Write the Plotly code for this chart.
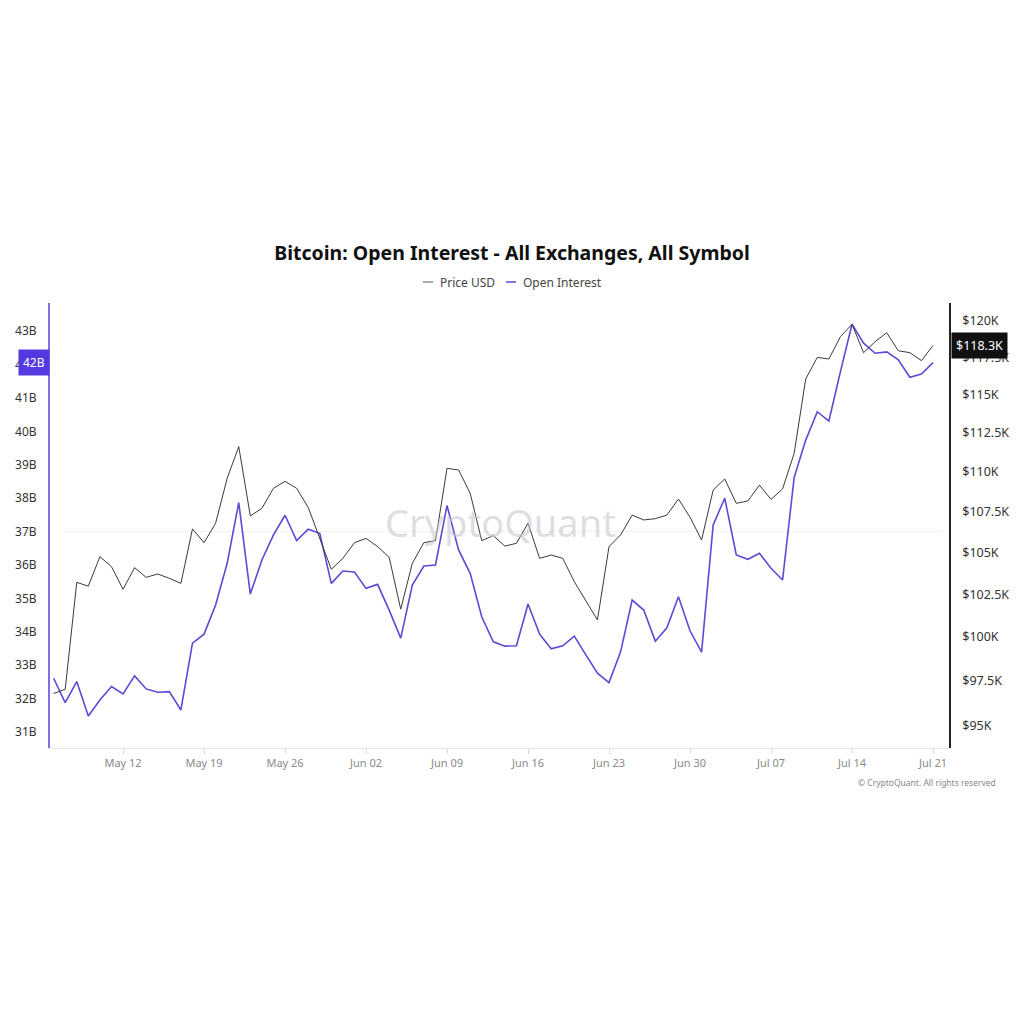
import math
import pandas as pd
import plotly.graph_objects as go

# ---- data (daily, 2025-05-06 .. 2025-07-21) ----
start_date = "2025-05-06"
n_days = 77

price_usd_k = [
    96.80, 97.03, 103.20, 102.98, 104.74, 104.14, 102.79, 104.08, 103.50, 103.70,
    103.44, 103.14, 106.43, 105.59, 106.78, 109.58, 111.60, 107.23, 107.70, 108.95,
    109.39, 108.95, 107.76, 105.85, 103.98, 104.64, 105.59, 105.85, 105.35, 104.70,
    101.62, 104.34, 105.59, 105.71, 110.21, 110.11, 108.64, 105.71, 106.02, 105.38,
    105.55, 106.78, 104.64, 104.84, 104.64, 103.24, 102.10, 100.99, 105.35, 106.06,
    107.28, 106.98, 107.06, 107.28, 108.28, 107.15, 105.75, 108.84, 109.54, 108.01,
    108.16, 109.15, 108.26, 108.91, 111.17, 116.04, 117.49, 117.38, 118.90, 119.75,
    117.81, 118.56, 119.17, 117.94, 117.81, 117.27, 118.30,
]

open_interest_b = [
    32.61, 31.88, 32.51, 31.48, 31.96, 32.36, 32.14, 32.68, 32.29, 32.19,
    32.21, 31.66, 33.66, 33.93, 34.80, 36.05, 37.87, 35.13, 36.15, 36.90,
    37.49, 36.73, 37.07, 36.95, 35.45, 35.82, 35.79, 35.30, 35.42, 34.65,
    33.81, 35.40, 35.97, 36.00, 37.78, 36.45, 35.75, 34.45, 33.70, 33.57,
    33.58, 34.83, 33.93, 33.49, 33.58, 33.87, 33.31, 32.76, 32.48, 33.40,
    34.95, 34.65, 33.72, 34.12, 35.05, 34.03, 33.39, 37.20, 38.00, 36.30,
    36.17, 36.35, 35.90, 35.55, 38.62, 39.74, 40.59, 40.31, 41.79, 43.21,
    42.64, 42.34, 42.38, 42.14, 41.62, 41.72, 42.06,
]

x_tick_dates = ["2025-05-12", "2025-05-19", "2025-05-26", "2025-06-02", "2025-06-09",
                "2025-06-16", "2025-06-23", "2025-06-30", "2025-07-07", "2025-07-14",
                "2025-07-21"]
x_tick_labels = ["May 12", "May 19", "May 26", "Jun 02", "Jun 09", "Jun 16",
                 "Jun 23", "Jun 30", "Jul 07", "Jul 14", "Jul 21"]

oi_tick_vals = [31, 32, 33, 34, 35, 36, 37, 38, 39, 40, 41, 42, 43]
oi_tick_labels = [f"{v}B" for v in oi_tick_vals]

price_tick_vals = [95000, 97500, 100000, 102500, 105000, 107500, 110000, 112500,
                   115000, 117500, 120000]
price_tick_labels = ["$95K", "$97.5K", "$100K", "$102.5K", "$105K", "$107.5K",
                     "$110K", "$112.5K", "$115K", "$117.5K", "$120K"]

series_names = ["Price USD", "Open Interest"]

dates = pd.date_range(start_date, periods=n_days, freq="D")
price_usd = [p * 1000 for p in price_usd_k]

PURPLE = "rgb(90,75,214)"
PRICE_COLOR = "#3a3a3a"
FONT = "Noto Sans"

# plot-area geometry (pixels)
PLOT_L, PLOT_R, PLOT_T, PLOT_B = 50, 949, 303, 748
PW, PH = PLOT_R - PLOT_L, PLOT_B - PLOT_T


def px_x(x):
    return (x - PLOT_L) / PW


def px_y(y):
    return (PLOT_B - y) / PH


fig = go.Figure()
fig.add_trace(go.Scatter(
    x=dates, y=price_usd, name=series_names[0], yaxis="y2", mode="lines",
    line=dict(color=PRICE_COLOR, width=1), showlegend=False,
))
fig.add_trace(go.Scatter(
    x=dates, y=open_interest_b, name=series_names[1], yaxis="y", mode="lines",
    line=dict(color=PURPLE, width=1.6), showlegend=False,
))

fig.update_layout(
    width=1024, height=1024,
    autosize=False,
    paper_bgcolor="white", plot_bgcolor="white",
    margin=dict(l=PLOT_L, r=1024 - PLOT_R, t=PLOT_T, b=1024 - PLOT_B, pad=0),
    font=dict(family=FONT, color="#333"),
    title=dict(
        text="<b>Bitcoin: Open Interest - All Exchanges, All Symbol</b>",
        x=0.5, xref="container", xanchor="center",
        y=1 - 253 / 1024, yref="container", yanchor="middle",
        font=dict(family=FONT, size=19.5, color="#111"),
    ),
    showlegend=False,
    xaxis=dict(
        type="date",
        range=["2025-05-05 16:30", "2025-07-22 09:10"],
        tickvals=x_tick_dates, ticktext=x_tick_labels,
        showgrid=False, zeroline=False,
        showline=True, linecolor="#e3e3e3", linewidth=1,
        ticks="outside", ticklen=5, tickcolor="#dddddd",
        tickfont=dict(family=FONT, size=11, color="#8a8a8a"),
    ),
    yaxis=dict(
        range=[43 - (PLOT_B - 331.2) / 33.4, 43 + (331.2 - PLOT_T) / 33.4],
        tickvals=oi_tick_vals, ticktext=oi_tick_labels,
        showgrid=False, zeroline=False,
        showline=True, linecolor="#7d70e3", linewidth=2,
        ticks="", ticklabelstandoff=9,
        tickfont=dict(family=FONT, size=12, color="#333"),
    ),
    yaxis2=dict(
        type="log", overlaying="y", side="right",
        range=[math.log10(120000 * math.exp(-(PLOT_B - 320.7) / 1735)),
               math.log10(120000 * math.exp((320.7 - PLOT_T) / 1735))],
        tickvals=price_tick_vals, ticktext=price_tick_labels,
        showgrid=False, zeroline=False,
        showline=True, linecolor="#222", linewidth=1.5,
        ticks="", ticklabelstandoff=9,
        tickfont=dict(family=FONT, size=12.5, color="#333"),
    ),
)

# legend: short coloured dashes + labels
for x0, x1, tx, col, name in [(423, 433, 438, "#8c8c8c", series_names[0]),
                              (506, 516, 521, PURPLE, series_names[1])]:
    fig.add_shape(type="line", xref="paper", yref="paper",
                  x0=px_x(x0), x1=px_x(x1), y0=px_y(282), y1=px_y(282),
                  line=dict(color=col, width=1.5))
    fig.add_annotation(text=name, xref="paper", yref="paper",
                       x=px_x(tx), y=px_y(282), xanchor="left", yanchor="middle",
                       showarrow=False, font=dict(family=FONT, size=12, color="#444"))

# faint reference gridline
fig.add_shape(type="line", xref="paper", yref="y",
              x0=px_x(64), x1=px_x(943), y0=37, y1=37,
              line=dict(color="#f1f1f1", width=1), layer="below")

# watermark
fig.add_annotation(text="CryptoQuant", xref="paper", yref="paper",
                   x=px_x(500), y=px_y(522), showarrow=False,
                   font=dict(family=FONT, size=38, color="rgba(200,200,205,0.6)"))

# copyright
fig.add_annotation(text="© CryptoQuant. All rights reserved", xref="paper", yref="paper",
                   x=px_x(998), y=px_y(782),
                   xanchor="right", yanchor="middle", showarrow=False,
                   font=dict(family=FONT, size=8.5, color="#888"))

# last-value badges
fig.add_annotation(text=f"{round(open_interest_b[-1])}B", xref="paper", yref="y",
                   x=0, y=open_interest_b[-1], xanchor="right", yanchor="middle",
                   showarrow=False, bgcolor="#5438e0", borderpad=4,
                   font=dict(family=FONT, size=12, color="white"))
fig.add_annotation(text=f"${price_usd_k[-1]:.1f}K", xref="paper", yref="y2",
                   x=1, y=math.log10(price_usd[-1]), xanchor="left", yanchor="middle",
                   xshift=2, showarrow=False, bgcolor="#111", borderpad=4,
                   font=dict(family=FONT, size=12.5, color="white"))

fig.write_html("out.html")
